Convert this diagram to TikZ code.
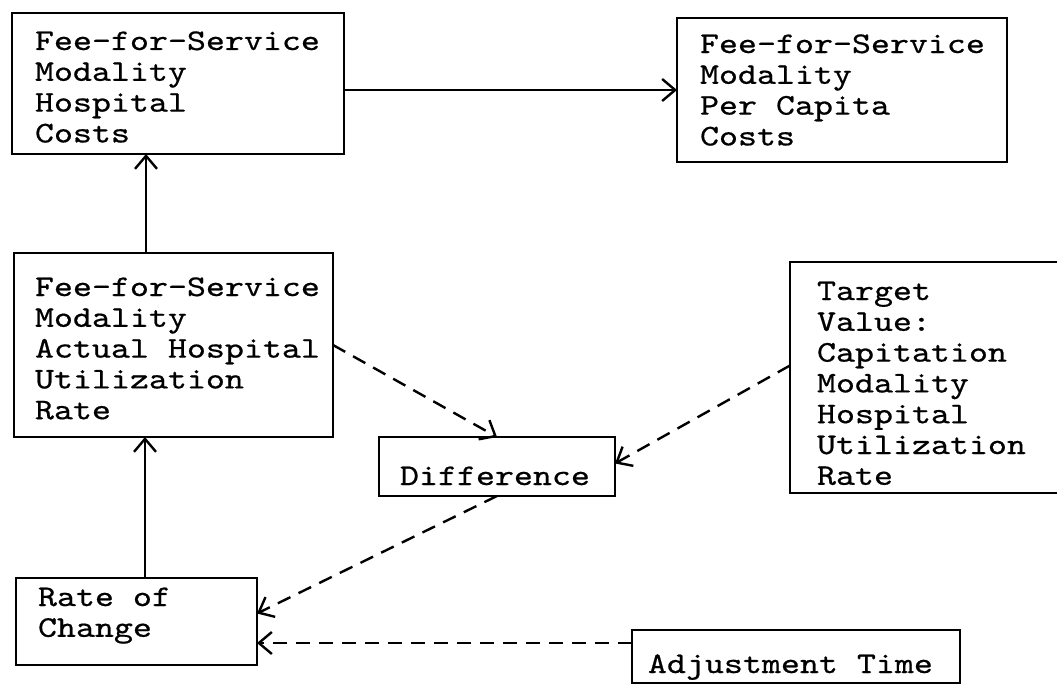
\documentclass[tikz,border=0pt]{standalone}
\usepackage{fontspec}
\newfontfamily\cour{lmmono10-regular}[Extension=.otf, FakeStretch=1.206, FakeBold=0.6]
\usetikzlibrary{arrows.meta}
% #1 width, #2 height, #3 top gap, #4 left gap, #5 lines
\newcommand{\bxt}[5]{\parbox[c][#2][t]{#1}{\cour\fontsize{30pt}{30.8pt}\selectfont\leftskip=#4\relax\vspace*{#3}\noindent\rule{0pt}{22pt}#5}}
\begin{document}
\begin{tikzpicture}[x=1pt,y=-1pt,
  box/.style={draw, line width=2.4pt, inner sep=0pt, outer sep=0pt, anchor=north west},
  arr/.style={line width=2.4pt, -{Straight Barb[length=13pt,width=22pt,line width=2.4pt]}},
  dsh/.style={arr, dash pattern=on 14pt off 9pt}]
\fill[white] (0,0) rectangle (1057,685);
\useasboundingbox (0,0) rectangle (1057,685);
\clip (0,0) rectangle (1057,685);

\node[box] (A) at (12,13) {\bxt{332pt}{141pt}{15pt}{23pt}{Fee-for-Service\\Modality\\Hospital\\Costs}};
\node[box] (B) at (677,18) {\bxt{330pt}{144pt}{13pt}{23pt}{Fee-for-Service\\Modality\\Per Capita\\Costs}};
\node[box] (C) at (14,253) {\bxt{319pt}{184pt}{21pt}{21pt}{Fee-for-Service\\Modality\\Actual Hospital\\Utilization\\Rate}};
\node[box] (D) at (379,437) {\bxt{236pt}{59pt}{26pt}{21pt}{Difference}};
\node[box] (T) at (790,262) {\bxt{280pt}{231pt}{16pt}{27pt}{Target\\Value:\\Capitation\\Modality\\Hospital\\Utilization\\Rate}};
\node[box] (R) at (16,578) {\bxt{241pt}{87pt}{6pt}{22pt}{Rate of\\Change}};
\node[box] (J) at (632,630) {\bxt{328pt}{53pt}{21pt}{16pt}{Adjustment Time}};

\draw[arr] (A.east |- B.west) -- (B.west);
\draw[arr] ([xshift=132pt]C.north west) -- ([xshift=132pt]C.north west |- A.south);
\draw[arr] ([xshift=129pt]R.north west) -- ([xshift=129pt]R.north west |- C.south);
\draw[dsh] (C.east) -- (D.north);
\draw[dsh] ([yshift=12pt]T.west) -- ([yshift=3pt]D.east);
\draw[dsh] (D.south) -- ([yshift=8pt]R.east);
\draw[dsh] ([yshift=-13pt]J.north west) -- ([yshift=-13pt]J.north west -| R.east);
\end{tikzpicture}
\end{document}
